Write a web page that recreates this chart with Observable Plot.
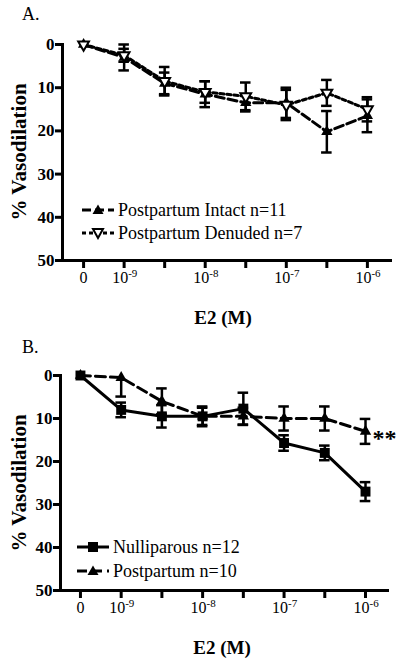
<!DOCTYPE html>
<html>
<head>
<meta charset="utf-8">
<script src="https://cdn.jsdelivr.net/npm/d3@7"></script>
<script src="https://cdn.jsdelivr.net/npm/@observablehq/plot@0.6"></script>
<style>
  html, body { margin: 0; padding: 0; background: #fff; }
  #wrap { position: relative; width: 400px; height: 661px; font-family: "Liberation Serif", "Times New Roman", serif; color: #000; overflow: hidden; }
  #wrap svg, #wrap svg text { font-family: "Liberation Serif", "Times New Roman", serif !important; }
  .abs { position: absolute; line-height: 1; white-space: nowrap; }
  .panel { position: absolute; left: 0; }
  .ylab { font-weight: bold; font-size: 21px; transform: translate(-50%, -50%) rotate(-90deg); }
  .xlab { font-weight: bold; font-size: 19px; transform: translate(-50%, -50%); }
  .ptitle { font-size: 18px; transform: translateY(-50%); }
  .leg { display: flex; align-items: center; font-size: 18px; transform: translateY(-50%); }
  .leg svg { display: block; margin-right: 4px; }
</style>
</head>
<body>
<div id="wrap">
  <div id="pa" class="panel" style="top:0"></div>
  <div id="pb" class="panel" style="top:330px"></div>
</div>
<script>
// ---- data ----
const xIndex = [0, 1, 2, 3, 4, 5, 6, 7];
const xTickBase = ["0", "10", "", "10", "", "10", "", "10"];
const xTickExp = ["", "-9", "", "-8", "", "-7", "", "-6"];
const yTicks = [0, 10, 20, 30, 40, 50];

// Panel A
const intactMean  = [0, 3, 9, 11.5, 13.5, 13.5, 20.2, 16.5];
const intactSem   = [0, 3, 2.5, 3, 2, 3.5, 4.8, 3.8];
const denudedMean = [0, 2.5, 8.5, 11, 12, 14, 11.2, 15];
const denudedSem  = [0, 1.5, 3.3, 2.5, 3.2, 3.5, 3, 2.8];

// Panel B
const nulliMean = [0, 8, 9.5, 9.5, 7.7, 15.7, 18, 27];
const nulliSem  = [0, 1.7, 2.6, 2.3, 3.7, 1.8, 1.7, 2.2];
const postMean  = [0, 0.5, 6, 9.5, 9.5, 10, 10, 13];
const postSem   = [0, 4.4, 3, 2, 2, 2.8, 2.8, 2.9];

const panelTitles = ["A.", "B."];
const yLabel = "% Vasodilation";
const xLabel = "E2 (M)";
const legendA = ["Postpartum Intact n=11", "Postpartum Denuded n=7"];
const legendB = ["Nulliparous n=12", "Postpartum n=10"];
const sigMark = "**";

const FONT = "Liberation Serif";

// ---- helpers ----
function rows(means, sems) {
  return xIndex.map(i => ({i, mean: means[i], sem: sems[i]}));
}
function caps(data) {
  const out = [];
  for (const d of data) {
    if (!d.sem) continue;
    out.push({i: d.i, y: d.mean + d.sem});
    if (d.mean - d.sem >= 0) out.push({i: d.i, y: d.mean - d.sem});
  }
  return out;
}
function errMarks(data) {
  const withErr = data.filter(d => d.sem > 0);
  return [
    Plot.ruleX(withErr, {x: "i", y1: d => Math.max(0, d.mean - d.sem), y2: d => d.mean + d.sem, strokeWidth: 2.5}),
    Plot.ruleY(caps(data), {y: "y", x1: d => d.i - 0.13, x2: d => d.i + 0.13, strokeWidth: 2.5})
  ];
}

function panel(cfg) {
  const tickRows = xIndex.map(i => ({i, base: xTickBase[i], exp: xTickExp[i]}));
  return Plot.plot({
    width: 400,
    height: cfg.height,
    marginTop: cfg.mt,
    marginBottom: cfg.mb,
    marginLeft: cfg.ml,
    marginRight: cfg.mr,
    style: {fontFamily: FONT, background: "#fff", color: "#000", overflow: "visible"},
    x: {type: "linear", domain: cfg.xdomain},
    y: {domain: [0, 50], reverse: true},
    marks: [
      Plot.axisY({ticks: yTicks, tickSize: 7, tickPadding: 1, strokeWidth: 3, fontSize: 17, fontWeight: "bold", fontFamily: FONT, label: null}),
      Plot.axisX({ticks: xIndex, tickSize: 8, strokeWidth: 3, tickFormat: () => "", label: null}),
      Plot.text(tickRows.filter(d => d.base && !d.exp), {x: "i", text: "base", frameAnchor: "bottom", dy: 22, fontSize: 16, fontFamily: FONT}),
      Plot.text(tickRows.filter(d => d.exp), {x: "i", text: "base", frameAnchor: "bottom", dy: 22, dx: 4, textAnchor: "end", fontSize: 16, fontFamily: FONT}),
      Plot.text(tickRows.filter(d => d.exp), {x: "i", text: "exp", frameAnchor: "bottom", dy: 16, dx: 4, textAnchor: "start", fontSize: 11, fontFamily: FONT}),
      Plot.frame({anchor: "left", strokeWidth: 3}),
      Plot.frame({anchor: "bottom", strokeWidth: 3}),
      ...cfg.marks
    ]
  });
}

// Panel A
const intact = rows(intactMean, intactSem);
const denuded = rows(denudedMean, denudedSem);
const plotA = panel({
  height: 330, mt: 44, mb: 70, ml: 62, mr: 10, xdomain: [-0.52, 7.57],
  marks: [
    ...errMarks(intact),
    ...errMarks(denuded),
    Plot.line(intact, {x: "i", y: "mean", strokeWidth: 3, strokeDasharray: "9,4"}),
    Plot.line(denuded, {x: "i", y: "mean", strokeWidth: 3, strokeDasharray: "4,3"}),
    Plot.dot(intact, {x: "i", y: "mean", symbol: "triangle", r: 4.2, fill: "#000"}),
    Plot.dot(denuded, {x: "i", y: "mean", symbol: "triangle", r: 4, rotate: 180, fill: "#fff", stroke: "#000", strokeWidth: 2})
  ]
});
document.getElementById("pa").appendChild(plotA);

// Panel B
const nulli = rows(nulliMean, nulliSem);
const post = rows(postMean, postSem);
const plotB = panel({
  height: 331, mt: 45, mb: 71, ml: 60, mr: 13, xdomain: [-0.49, 7.54],
  marks: [
    ...errMarks(nulli),
    ...errMarks(post),
    Plot.line(post, {x: "i", y: "mean", strokeWidth: 3, strokeDasharray: "10,5"}),
    Plot.line(nulli, {x: "i", y: "mean", strokeWidth: 3}),
    Plot.dot(post, {x: "i", y: "mean", symbol: "triangle", r: 4.2, fill: "#000"}),
    Plot.dot(nulli, {x: "i", y: "mean", symbol: "square", r: 5.6, fill: "#000"}),
    Plot.text(post.slice(-1), {x: "i", y: "mean", text: () => sigMark, dx: 7, dy: 7, textAnchor: "start", fontSize: 24, fontWeight: "bold", fontFamily: FONT})
  ]
});
document.getElementById("pb").appendChild(plotB);

// ---- overlays (titles, axis labels, legends) ----
const wrap = document.getElementById("wrap");
function addText(cls, txt, left, top) {
  const el = document.createElement("div");
  el.className = "abs " + cls;
  el.textContent = txt;
  el.style.left = left + "px";
  el.style.top = top + "px";
  wrap.appendChild(el);
  return el;
}
addText("ptitle", panelTitles[0], 22, 14);
addText("ptitle", panelTitles[1], 22, 347);
addText("ylab", yLabel, 19, 152);
addText("ylab", yLabel, 19, 483);
addText("xlab", xLabel, 223, 317);
addText("xlab", xLabel, 222, 647);

function legendSwatch(dash, symbol) {
  const ns = "http://www.w3.org/2000/svg";
  const svg = document.createElementNS(ns, "svg");
  svg.setAttribute("width", 32); svg.setAttribute("height", 14);
  const ln = document.createElementNS(ns, "line");
  ln.setAttribute("x1", 0); ln.setAttribute("x2", 32); ln.setAttribute("y1", 7); ln.setAttribute("y2", 7);
  ln.setAttribute("stroke", "#000"); ln.setAttribute("stroke-width", 3);
  if (dash) ln.setAttribute("stroke-dasharray", dash);
  svg.appendChild(ln);
  const p = document.createElementNS(ns, "path");
  if (symbol === "up") { p.setAttribute("d", "M16,1.5 L21.5,11 L10.5,11 Z"); p.setAttribute("fill", "#000"); }
  else if (symbol === "down") { p.setAttribute("d", "M16,12 L21,3 L11,3 Z"); p.setAttribute("fill", "#fff"); p.setAttribute("stroke", "#000"); p.setAttribute("stroke-width", 2); }
  else { p.setAttribute("d", "M11,2 L21,2 L21,12 L11,12 Z"); p.setAttribute("fill", "#000"); }
  svg.appendChild(p);
  return svg;
}
function addLegend(left, top, label, dash, symbol) {
  const el = document.createElement("div");
  el.className = "abs leg";
  el.style.left = left + "px";
  el.style.top = top + "px";
  el.appendChild(legendSwatch(dash, symbol));
  const s = document.createElement("span");
  s.textContent = label;
  el.appendChild(s);
  wrap.appendChild(el);
}
addLegend(82, 210, legendA[0], "9,4", "up");
addLegend(82, 233, legendA[1], "4,3", "down");
addLegend(77, 547, legendB[0], null, "square");
addLegend(77, 571, legendB[1], "10,5", "up");
</script>
</body>
</html>
